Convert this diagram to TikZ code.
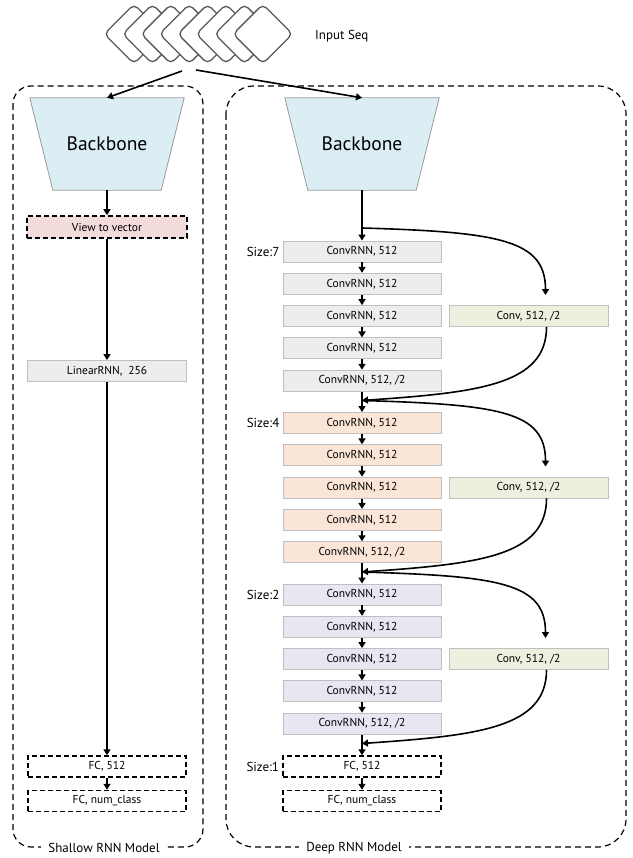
\documentclass[tikz,border=0pt]{standalone}
\usepackage{fontspec}
\setmainfont{PT Sans}
\usetikzlibrary{positioning, calc, arrows.meta}
\pgfdeclarelayer{background}
\pgfsetlayers{background,main}
\definecolor{bbblue}{HTML}{DAEEF3}
\definecolor{viewpink}{HTML}{F2DCDB}
\definecolor{rnngray}{HTML}{EDEDED}
\definecolor{rnnpeach}{HTML}{FBE5D6}
\definecolor{rnnlilac}{HTML}{E8E6F0}
\definecolor{convgreen}{HTML}{EBF1DE}
\definecolor{edgegray}{HTML}{BFBFBF}
\definecolor{seqgray}{HTML}{595959}
\tikzset{flow/.tip={Triangle[length=6pt, width=7pt]}}

\begin{document}
\begin{tikzpicture}[
    x=1pt, y=-1pt,
    every node/.style={font=\fontsize{11.5}{13}\selectfont, inner sep=0pt},
    rnn/.style={draw=edgegray, line width=0.9, minimum width=158, minimum height=21},
    fcbox/.style={draw=black, dash pattern=on 5pt off 3pt, line width=1.5, minimum width=158, minimum height=21},
    backbone/.style={minimum width=154, minimum height=92, font=\fontsize{19.5}{22}\selectfont},
    bbshape/.style={fill=bbblue, draw=edgegray!80!black, line width=0.8},
    seqbox/.style={draw=seqgray, fill=white, rotate=45, rounded corners=5, minimum size=42, line width=1.3},
    groupbox/.style={dash pattern=on 6pt off 4pt, line width=1.2},
    modeltag/.style={fill=white, inner xsep=7pt, inner ysep=3pt, font=\fontsize{13}{15}\selectfont},
    sizetag/.style={anchor=east, inner xsep=3pt, font=\fontsize{13}{15}\selectfont},
    flowline/.style={line width=1.6, -flow},
]
\useasboundingbox (0,0) rectangle (632,858);

% model frames
\draw[groupbox, rounded corners=18] (13,86) rectangle (203,847);
\draw[groupbox, rounded corners=28] (226,86) rectangle (626,847);
\node[modeltag] (shallow) at (104,848) {Shallow RNN Model};
\node[modeltag] (deep) at (354,848) {Deep RNN Model};

% input sequence
\foreach \i in {0,...,7}
    \node[seqbox] (seq\i) at ({134+18.4*\i}, 34) {};
\node[font=\fontsize{13}{15}\selectfont, anchor=west] (seqlbl) at (315,36) {Input Seq};
\coordinate (srcL) at (182,71);
\coordinate (srcR) at (196,70);

% backbones
\node[backbone] (bb1) at (107,144) {Backbone};
\node[backbone] (bb2) at (362,144) {Backbone};
\begin{pgfonlayer}{background}
\foreach \b in {bb1,bb2}
    \filldraw[bbshape] (\b.north west) -- (\b.north east) -- ([xshift=-23]\b.south east)
        -- ([xshift=23]\b.south west) -- cycle;
\end{pgfonlayer}
\draw[flowline] (srcL) -- (bb1.north);
\draw[flowline] (srcR) -- (bb2.north);

% shallow model
\node[fcbox, fill=viewpink, minimum width=160, minimum height=22] (view) at (107,227) {View to vector};
\node[rnn, fill=rnngray, minimum width=159] (linrnn) at (107,371) {LinearRNN,\enspace256};
\node[fcbox] (fcL1) at (107,766.5) {FC, 512};
\node[fcbox] (fcL2) at (107,801) {FC, num\_class};
\draw[flowline] (bb1) -- (view);
\draw[flowline] (view) -- (linrnn);
\draw[flowline] (linrnn) -- (fcL1);
\draw[flowline] (fcL1) -- (fcL2);

% deep model
\foreach \g/\col/\sz in {0/rnngray/7, 1/rnnpeach/4, 2/rnnlilac/2}
{
    \foreach \i in {0,...,4}
    {
        \node[rnn, fill=\col] (r\g-\i) at ({362}, {251.5+171.5*\g+32.3*\i})
            {\ifnum\i=4 ConvRNN, 512, /2\else ConvRNN, 512\fi};
    }
    \node[sizetag] (sz\g) at (r\g-0.west) {Size:\sz};
    \node[rnn, fill=convgreen, minimum width=159] (cv\g) at ({528.5}, {316+171.5*\g}) {Conv, 512, /2};
}
\node[fcbox] (fcR1) at (362,766.5) {FC, 512};
\node[fcbox] (fcR2) at (362,801) {FC, num\_class};
\node[sizetag] (sz3) at (fcR1.west) {Size:1};

\coordinate (sp0) at (362,228);
\coordinate (sp1) at (362,400.5);
\coordinate (sp2) at (362,572);
\coordinate (sp3) at (362,743.5);

\draw[flowline] (bb2) -- (r0-0);
\draw[flowline] (r0-4) -- (r1-0);
\draw[flowline] (r1-4) -- (r2-0);
\draw[flowline] (r2-4) -- (fcR1);
\draw[flowline] (fcR1) -- (fcR2);
\foreach \g in {0,1,2}
    \foreach \i [count=\j] in {0,...,3}
        \draw[flowline] (r\g-\i) -- (r\g-\j);

% shortcut branches
\foreach \g [count=\h] in {0,1,2}
{
    \draw[flowline, shorten >=10pt] (sp\g) .. controls +(138,4) and +(0,-65) .. ([xshift=17]cv\g.north);
    \draw[flowline] ([xshift=18]cv\g.south) .. controls +(0,58) and +(116,-8) .. (sp\h);
}

\end{tikzpicture}
\end{document}
